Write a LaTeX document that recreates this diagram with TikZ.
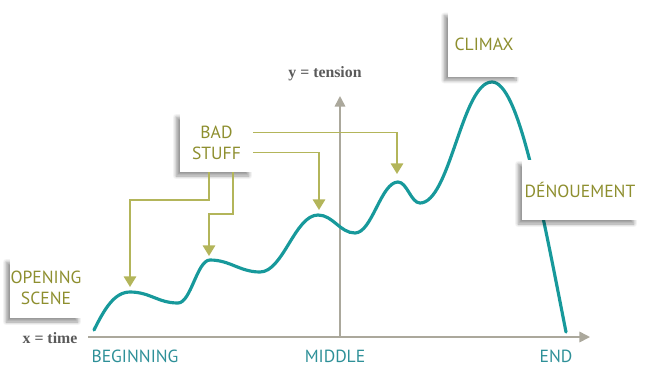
\documentclass[tikz,border=0pt]{standalone}
\usepackage{fontspec}
\setmainfont{Liberation Serif}
\setsansfont{PT Sans}
\usepackage{tikz}
\usetikzlibrary{arrows.meta, positioning, shadows.blur}

\definecolor{plotteal}{HTML}{17999B}
\definecolor{labelteal}{HTML}{2E9098}
\definecolor{olive}{HTML}{B3B55A}
\definecolor{olivetext}{HTML}{8E8F2F}
\definecolor{axisgray}{HTML}{ABA89C}
\definecolor{axistext}{HTML}{5A5A5A}

\begin{document}
\begin{tikzpicture}[x=0.02cm, y=-0.02cm,
    stage/.style={fill=white, text=olivetext, font=\sffamily\fontsize{10}{12}\selectfont,
                  align=center, inner sep=0pt,
                  blur shadow={shadow blur steps=8, shadow xshift=-0.8mm,
                               shadow yshift=-0.8mm, shadow opacity=40}},
    marker/.style={text=labelteal, font=\sffamily\fontsize{10}{12}\selectfont},
    axislabel/.style={text=axistext, font=\bfseries\fontsize{9}{11}\selectfont},
    flow/.style={draw=olive, line width=1.1pt, -{Triangle[width=7pt,length=6pt]}},
    axis/.style={draw=axisgray, line width=0.9pt, -{Triangle[width=6pt,length=6pt]}}]

    \useasboundingbox (0,0) rectangle (650,380);

    % Axes
    \coordinate (origin) at (88,337);
    \coordinate (xend) at (590,337);
    \coordinate (ybase) at (340,337);
    \coordinate (yend) at (340,96);
    \draw[axis] (origin) -- (xend);
    \draw[axis] (ybase) -- (yend);
    \node[axislabel] (xlabel) at (50,338) {x = time};
    \node[axislabel] (ylabel) at (325,74) {y = tension};

    % Markers on the time axis
    \node[marker] (beginning) at (135,356) {BEGINNING};
    \node[marker] (middle) at (335,356) {MIDDLE};
    \node[marker] (end) at (556,356) {END};

    % Tension curve
    \draw[plotteal, line width=1.8pt, line cap=round]
      (94,330) .. controls (104,310) and (114,292) .. (130,292)
      .. controls (150,292) and (158,303) .. (178,303)
      .. controls (191,303) and (197,260) .. (210,260)
      .. controls (230,260) and (240,272) .. (260,272)
      .. controls (283,272) and (295,215) .. (318,215)
      .. controls (333,215) and (340,233) .. (355,233)
      .. controls (372,233) and (381,182) .. (398,182)
      .. controls (407,182) and (411,203) .. (420,203)
      .. controls (450,203) and (462,82) .. (492,82)
      .. controls (518,82) and (540,200) .. (566,332);

    % Tips of the arrows
    \coordinate (tipA) at (130,287);
    \coordinate (tipB) at (209,256);
    \coordinate (tipC) at (319,210);
    \coordinate (tipD) at (397,174);

    % Boxes
    \node[stage, minimum width=1.44cm, minimum height=1.2cm] (opening) at (46,288) {OPENING\\SCENE};
    \node[stage, minimum width=1.46cm, minimum height=1.18cm] (badstuff) at (216.5,142.5) {BAD\\STUFF};
    \node[stage, minimum width=1.44cm, minimum height=1.3cm] (climax) at (484,44) {CLIMAX};
    \node[stage, minimum width=2.32cm, minimum height=1.2cm] (denouement) at (580,190) {DÉNOUEMENT};

    % Bad stuff arrows
    \draw[flow] ([xshift=-0.15cm]badstuff.south) |- (130,200) -- (tipA);
    \draw[flow] ([xshift=0.33cm]badstuff.south) |- (209,214) -- (tipB);
    \draw[flow] ([yshift=-0.2cm]badstuff.east) -| (tipC);
    \draw[flow] ([yshift=0.2cm]badstuff.east) -| (tipD);

\end{tikzpicture}
\end{document}
